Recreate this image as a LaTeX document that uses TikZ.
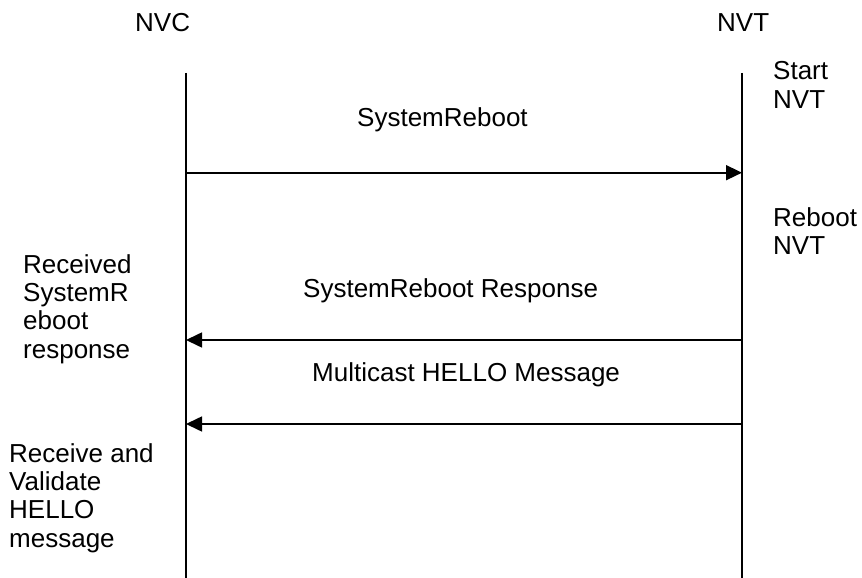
\documentclass[tikz,border=0pt]{standalone}
\usepackage{fontspec}
\setmainfont{Liberation Sans}
\usetikzlibrary{arrows.meta}
\tikzset{
  lbl/.style={inner sep=0pt, anchor=base west, align=left, font=\fontsize{26}{28.4}\selectfont},
  lifeline/.style={line width=2pt},
  msg/.style={line width=1.6pt, -{Triangle[length=16pt,width=15pt]}}
}
\begin{document}
\begin{tikzpicture}[x=1pt,y=-1pt]
\useasboundingbox (0,0) rectangle (862,578);
% actors
\node[lbl] (nvc) at (135,32) {NVC};
\node[lbl] (nvt) at (717,32) {NVT};
% lifelines
\coordinate (nvcTop) at (186,73);
\coordinate (nvcBot) at (186,578);
\coordinate (nvtTop) at (742,73);
\coordinate (nvtBot) at (742,578);
\draw[lifeline] (nvcTop) -- (nvcBot);
\draw[lifeline] (nvtTop) -- (nvtBot);
% message endpoints
\coordinate (m1a) at (186,172.7);
\coordinate (m1b) at (742,172.7);
\coordinate (m2a) at (742,340);
\coordinate (m2b) at (186,340);
\coordinate (m3a) at (742,424);
\coordinate (m3b) at (186,424);
\draw[msg] (m1a) -- (m1b);
\draw[msg] (m2a) -- (m2b);
\draw[msg] (m3a) -- (m3b);
% message labels
\node[lbl] (l1) at (357,126) {SystemReboot};
\node[lbl] (l2) at (303,297) {SystemReboot Response};
\node[lbl] (l3) at (312,381) {Multicast HELLO Message};
% NVT side notes (anchor is baseline of last line)
\node[lbl] (s1) at (773,108.4) {Start\\NVT};
\node[lbl] (s2) at (773,254.4) {Reboot\\NVT};
% NVC side notes
\node[lbl] (c1) at (23,358.2) {Received\\SystemR\\eboot\\response};
\node[lbl] (c2) at (9,547.2) {Receive and\\Validate\\HELLO\\message};
\end{tikzpicture}
\end{document}
